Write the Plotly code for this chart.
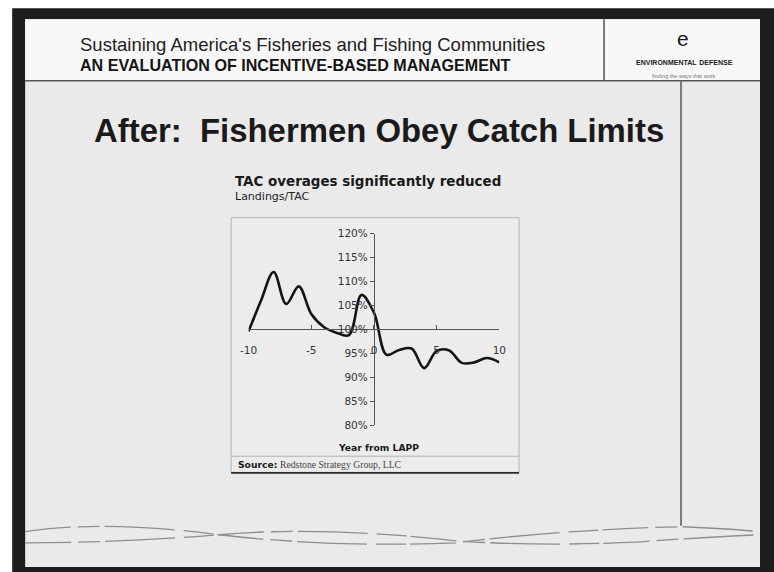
import plotly.graph_objects as go

# ---- data: landings as a share of the TAC, by year relative to LAPP start
years = list(range(-10, 11))
landings_pct = [99.6, 106.1, 112.0, 105.3, 109.0, 103.2, 100.5, 99.3, 98.8, 107.2,
                103.5, 94.7, 95.7, 96.0, 91.9, 95.5, 95.6, 93.0, 93.1, 94.0, 93.1]
x_tick_vals = [-10, -5, 0, 5, 10]
x_tick_text = ["-10", "-5", "0", "5", "10"]
y_tick_vals = [80, 85, 90, 95, 100, 105, 110, 115, 120]
y_tick_text = [f"{v}%" for v in y_tick_vals]

# Layout positions below are written in final picture pixels (774 x 572).
# The page keeps an 8px body margin inside a 790 x 588 css viewport, so they
# are converted to css pixels and then to paper fractions of the figure.
PIC_W, PIC_H = 774, 572
VIEW_W, VIEW_H, BODY_MARGIN = 790, 588, 8
KX, KY = PIC_W / VIEW_W, PIC_H / VIEW_H
W, H = VIEW_W - BODY_MARGIN, VIEW_H - BODY_MARGIN


def px(x):
    return (x / KX - BODY_MARGIN) / W


def py(y):
    return 1 - (y / KY - BODY_MARGIN) / H


fig = go.Figure()

fig.add_trace(go.Scatter(
    x=years, y=landings_pct, mode="lines",
    line=dict(color="#141414", width=2.6, shape="spline", smoothing=1.0),
    hoverinfo="skip", showlegend=False,
))

tick_font = dict(family="DejaVu Sans, Verdana, sans-serif", size=10.5, color="#333333")

fig.update_layout(
    width=W, height=H, autosize=False,
    margin=dict(l=0, r=0, t=0, b=0),
    paper_bgcolor="#ffffff",
    plot_bgcolor="rgba(0,0,0,0)",
    showlegend=False,
    xaxis=dict(
        range=[-10, 10], domain=[px(247.5), px(498.3)],
        anchor="free", position=py(329),
        showline=True, linecolor="#555555", linewidth=1.3,
        ticks="inside", ticklen=4, tickcolor="#555555", tickwidth=1.2,
        tickvals=x_tick_vals, ticktext=x_tick_text,
        tickfont=tick_font, ticklabelstandoff=11,
        showgrid=False, zeroline=False, fixedrange=True,
    ),
    yaxis=dict(
        range=[80, 120], domain=[py(424), py(234)],
        anchor="free", position=px(372.9),
        showline=True, linecolor="#555555", linewidth=1.3,
        ticks="outside", ticklen=4, tickcolor="#555555", tickwidth=1.2,
        tickvals=y_tick_vals, ticktext=y_tick_text,
        tickfont=tick_font,
        showgrid=False, zeroline=False, fixedrange=True,
    ),
)

shapes = []


def rect(x0, y0, x1, y1, fill, line_color=None, line_width=0):
    shapes.append(dict(
        type="rect", xref="paper", yref="paper", layer="below",
        x0=px(x0), x1=px(x1), y0=py(y1), y1=py(y0),
        fillcolor=fill,
        line=dict(color=line_color or fill, width=line_width),
    ))


def seg(x0, y0, x1, y1, color, width, dash="solid"):
    shapes.append(dict(
        type="line", xref="paper", yref="paper", layer="below",
        x0=px(x0), x1=px(x1), y0=py(y0), y1=py(y1),
        line=dict(color=color, width=width, dash=dash),
    ))


def curve(points, color, width, dash):
    path = "M {},{}".format(px(points[0][0]), py(points[0][1]))
    for i in range(1, len(points) - 1, 2):
        c, e = points[i], points[i + 1]
        path += " Q {},{} {},{}".format(px(c[0]), py(c[1]), px(e[0]), py(e[1]))
    shapes.append(dict(
        type="path", xref="paper", yref="paper", layer="below", path=path,
        line=dict(color=color, width=width, dash=dash),
    ))


# slide frame and panels
rect(11, 10, 790, 590, "#1e1c1d")
rect(24, 21, 759, 565, "#eaeaea")
rect(24, 21, 759, 82, "#f8f8f8")
seg(24, 82, 759, 82, "#555555", 1.6)
seg(603, 21, 603, 82, "#444444", 1.4)
seg(680, 82, 680, 524, "#7a7a7a", 2)

# chart panel and source strip
rect(230, 218, 518, 471, "#ececec", "#b5b5b5", 1)
seg(230, 455, 518, 455, "#b0b0b0", 1)
seg(230, 471.5, 518, 471.5, "#2a2a2a", 1.8)

# decorative waves along the bottom of the slide
wave_dash = "46px,7px,22px,5px,70px,9px,30px,4px"
curve([(24, 530), (100, 518), (218, 533), (330, 546), (455, 541),
       (560, 528), (680, 525), (730, 527), (759, 530)], "#8e8e8e", 1.3, wave_dash)
curve([(24, 541), (120, 541), (218, 533), (320, 524), (455, 539),
       (540, 545), (640, 540), (710, 535), (759, 533)], "#8e8e8e", 1.3, wave_dash)

fig.update_layout(shapes=shapes)

ann = []


def text(x, y, s, size, family="Liberation Sans, Arial, sans-serif", color="#1a1a1a",
         xanchor="left", yanchor="middle", **font_extra):
    ann.append(dict(
        x=px(x), y=py(y), xref="paper", yref="paper", text=s, showarrow=False,
        xanchor=xanchor, yanchor=yanchor,
        font=dict(family=family, size=size, color=color, **font_extra),
    ))


# header
text(77, 46, "Sustaining America's Fisheries and Fishing Communities", 18.5,
     family="Liberation Sans Narrow, Arial Narrow, Liberation Sans, Arial, sans-serif",
     color="#222222")
text(77, 66, "<b>AN EVALUATION OF INCENTIVE-BASED MANAGEMENT</b>", 16.1, color="#151515")
text(682, 40, "e", 21, xanchor="center", color="#1a1a1a")
text(683, 63, "<b>environmental defense</b>", 10, xanchor="center", color="#222222",
     variant="small-caps")
text(683, 77, "finding the ways that work", 5.5, xanchor="center", color="#777777")

# slide title
text(378, 131, "<b>After:  Fishermen Obey Catch Limits</b>", 32.9, xanchor="center",
     color="#1a1a1a")

# chart titles and labels
text(232, 182, "<b>TAC overages significantly reduced</b>", 13.45,
     family="DejaVu Sans, Verdana, sans-serif", color="#1a1a1a")
text(232, 197, "Landings/TAC", 11, family="DejaVu Sans, Verdana, sans-serif",
     color="#222222")
text(377, 446, "<b>Year from LAPP</b>", 9.2, xanchor="center",
     family="DejaVu Sans, Verdana, sans-serif", color="#1a1a1a")
text(235, 463, "<b>Source:</b>", 9.2, family="DejaVu Sans, Verdana, sans-serif",
     color="#1a1a1a")
text(277, 463, "Redstone Strategy Group, LLC", 9.7,
     family="Liberation Serif, Times New Roman, serif", color="#444444")

fig.update_layout(annotations=ann)

fig.write_html("out.html")
